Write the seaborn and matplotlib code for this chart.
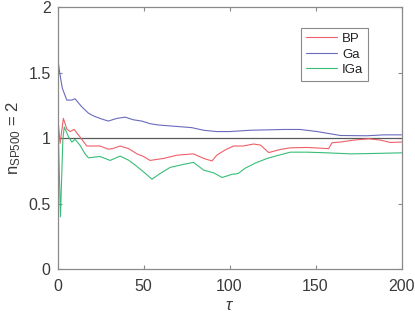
import matplotlib
matplotlib.use("Agg")
import matplotlib.pyplot as plt
import seaborn as sns
import pandas as pd
import numpy as np

# ---- data ----
series_names = ["BP", "Ga", "IGa"]

tau_bp = [0.5, 1.5, 3.4, 5.4, 7.3, 9.7, 13, 17, 20.8, 24.7, 29.5, 32, 36.4, 41.3, 46.2,
          50, 53.8, 61.6, 69.4, 79, 85, 89.8, 92.6, 97.5, 102.3, 108, 114, 118, 122.8,
          129.6, 135.4, 145, 157.6, 159.6, 164.4, 172.2, 180.9, 187.7, 193.5, 200]
val_bp = [1.11, 0.96, 1.15, 1.07, 1.05, 1.066, 1.01, 0.94, 0.94, 0.94, 0.916, 0.92, 0.94,
          0.92, 0.88, 0.86, 0.83, 0.845, 0.87, 0.88, 0.845, 0.826, 0.87, 0.91, 0.94, 0.94,
          0.955, 0.947, 0.89, 0.914, 0.926, 0.929, 0.92, 0.965, 0.97, 0.985, 0.995, 0.985,
          0.967, 0.97]

tau_ga = [0.5, 1.5, 2.8, 5.4, 8.3, 10.2, 14, 18, 20.8, 24.7, 29.5, 34.4, 39.3, 44, 49,
          53.8, 58.7, 68.4, 78, 84.9, 92.6, 100, 112, 131.5, 141, 151, 164.5, 180, 189.7, 200]
val_ga = [1.57, 1.48, 1.38, 1.29, 1.29, 1.30, 1.24, 1.19, 1.17, 1.15, 1.13, 1.15, 1.16,
          1.14, 1.13, 1.11, 1.10, 1.09, 1.08, 1.06, 1.05, 1.05, 1.06, 1.066, 1.066, 1.05,
          1.02, 1.018, 1.025, 1.025]

tau_iga = [0.5, 1.7, 3.1, 3.9, 6.4, 8.3, 10.2, 13, 16, 18, 24.7, 30.6, 36.4, 41.3, 45.2,
           50, 54.9, 59.7, 65.5, 73.3, 79, 85, 90.8, 95.7, 101.4, 105, 109, 115, 121.8,
           128.6, 135.4, 145, 156.6, 170.2, 183.8, 200]
val_iga = [1.02, 0.40, 0.99, 1.085, 1.01, 0.97, 0.99, 0.947, 0.88, 0.85, 0.86, 0.83, 0.863,
           0.832, 0.794, 0.743, 0.687, 0.731, 0.777, 0.80, 0.815, 0.756, 0.735, 0.70, 0.724,
           0.73, 0.77, 0.81, 0.845, 0.87, 0.893, 0.893, 0.888, 0.88, 0.883, 0.888]

reference_level = 1.0
x_ticks = [0, 50, 100, 150, 200]
y_ticks = [0, 0.5, 1, 1.5, 2]
y_tick_labels = ["0", "0.5", "1", "1.5", "2"]

# ---- build long table ----
df = pd.concat([
    pd.DataFrame({"tau": tau_bp, "value": val_bp, "series": "BP"}),
    pd.DataFrame({"tau": tau_ga, "value": val_ga, "series": "Ga"}),
    pd.DataFrame({"tau": tau_iga, "value": val_iga, "series": "IGa"}),
], ignore_index=True)

sns.set_theme(style="white")
plt.rcParams["font.family"] = ["Liberation Sans", "DejaVu Sans"]
plt.rcParams["mathtext.fontset"] = "custom"
plt.rcParams["mathtext.rm"] = "Liberation Sans"
plt.rcParams["mathtext.it"] = "Liberation Sans:italic"

palette = {"BP": "#ef5f68", "Ga": "#6a6abf", "IGa": "#38bd78"}

fig = plt.figure(figsize=(4.15, 3.15), dpi=100)
ax = fig.add_axes([0.1386, 0.145, 0.829, 0.833])

ax.axhline(reference_level, color="#5a5a5a", lw=0.9, zorder=1)
sns.lineplot(data=df, x="tau", y="value", hue="series", hue_order=series_names,
             palette=palette, estimator=None, sort=False, linewidth=0.8, ax=ax, zorder=2)

ax.set_xlim(0, 200)
ax.set_ylim(0, 2)
ax.set_xticks(x_ticks)
ax.set_yticks(y_ticks)
ax.set_yticklabels(y_tick_labels)

for s in ax.spines.values():
    s.set_visible(True)
    s.set_color("#8a8a8a")
    s.set_linewidth(0.9)
ax.tick_params(direction="in", length=3, width=0.8, colors="#8a8a8a",
               labelcolor="#3a3a3a", labelsize=11.5, top=True, right=True,
               bottom=True, left=True)
ax.tick_params(axis="x", pad=7)
ax.tick_params(axis="y", pad=5)

ax.set_xlabel(r"$\tau$", fontsize=12, color="#3a3a3a", labelpad=3)
ax.set_ylabel(r"n$_{\mathrm{SP500}}$ = 2", fontsize=12, color="#3a3a3a", labelpad=4)

leg = ax.legend(loc="upper right", bbox_to_anchor=(0.902, 0.919), fontsize=9.5,
                frameon=True, fancybox=False, edgecolor="#8a8a8a", framealpha=1,
                handlelength=2.4, handletextpad=0.35, borderpad=0.35,
                labelspacing=0.25, borderaxespad=0)
leg.get_frame().set_linewidth(0.8)
for t in leg.get_texts():
    t.set_color("#222222")

fig.savefig("out.png", dpi=100)
